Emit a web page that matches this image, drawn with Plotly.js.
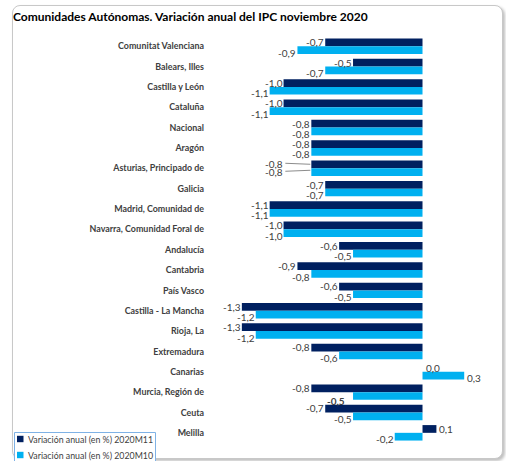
<!DOCTYPE html>
<html>
<head>
<meta charset="utf-8">
<script src="https://cdn.plot.ly/plotly-3.0.1.min.js"></script>
<style>
  html, body { margin: 0; padding: 0; background: #ffffff; }
  #wrap { position: relative; width: 506px; height: 461px; overflow: hidden; }
  #frame { position: absolute; left: 12px; top: 5px; width: 489px; height: 452px;
           border: 1px solid #c8c8c8; border-radius: 8px;
           box-shadow: 2px 2px 3px rgba(0,0,0,0.25); background: #ffffff; }
  #chart { position: absolute; left: 0; top: 0; width: 506px; height: 461px; }
</style>
</head>
<body>
<div id="wrap">
  <div id="frame"></div>
  <div id="chart"></div>
</div>
<script>
const categories = [
  "Comunitat Valenciana", "Balears, Illes", "Castilla y León", "Cataluña", "Nacional",
  "Aragón", "Asturias, Principado de", "Galicia", "Madrid, Comunidad de",
  "Navarra, Comunidad Foral de", "Andalucía", "Cantabria", "País Vasco",
  "Castilla - La Mancha", "Rioja, La", "Extremadura", "Canarias",
  "Murcia, Región de", "Ceuta", "Melilla"
];
const m11 = [-0.7, -0.5, -1.0, -1.0, -0.8, -0.8, -0.8, -0.7, -1.1, -1.0,
             -0.6, -0.9, -0.6, -1.3, -1.3, -0.8, 0.0, -0.8, -0.7, 0.1];
const m10 = [-0.9, -0.7, -1.1, -1.1, -0.8, -0.8, -0.8, -0.7, -1.1, -1.0,
             -0.5, -0.8, -0.5, -1.2, -1.2, -0.6, 0.3, -0.5, -0.5, -0.2];
const seriesNames = ["Variación anual (en %) 2020M11", "Variación anual (en %) 2020M10"];

const darkColor = "#002060";
const lightColor = "#00B0F0";
const fontFam = "Lato, 'Open Sans', sans-serif";

// plot geometry (pixels)
const W = 506, H = 461;
const M = { l: 221, r: 14, t: 36, b: 18 };
const PW = W - M.l - M.r, PH = H - M.t - M.b;
const px2x = (px) => (px - M.l) / PW;
const py2y = (py) => (H - M.b - py) / PH;

function fmt(v) { return v.toFixed(1).replace('.', ','); }

const traces = [
  { type: 'bar', orientation: 'h', name: seriesNames[0], y: categories, x: m11,
    marker: { color: darkColor }, hoverinfo: 'none' },
  { type: 'bar', orientation: 'h', name: seriesNames[1], y: categories, x: m10,
    marker: { color: lightColor }, hoverinfo: 'none' }
];

const annotations = [];
const shapes = [];
const leaderCat = "Asturias, Principado de";
const boldCat = "Murcia, Región de";

function addLabels(vals, up) {
  vals.forEach((v, i) => {
    const pos = v >= 0;
    const cat = categories[i];
    const bold = (!up && cat === boldCat);
    const leader = (cat === leaderCat);
    let xshift = pos ? 2 : 0;
    let yshift = up ? 4 : -6.5;
    if (leader) { xshift = -27; yshift = up ? 4 : -4; }
    if (bold) { xshift = -7; yshift = -9; }
    annotations.push({
      x: v, y: cat, xref: 'x', yref: 'y',
      text: bold ? '<b>' + fmt(v) + '</b>' : fmt(v),
      showarrow: false, borderpad: 0,
      xanchor: pos ? 'left' : 'right',
      xshift: xshift, yshift: yshift,
      font: { family: fontFam, size: 10, color: '#404040' }
    });
    if (leader) {
      shapes.push({
        type: 'line', xref: 'x', yref: 'y',
        xsizemode: 'pixel', xanchor: v, x0: -26, x1: -1,
        ysizemode: 'pixel', yanchor: cat, y0: yshift + 1, y1: yshift + (up ? 0 : 2),
        line: { color: '#8c8c8c', width: 1 }
      });
    }
  });
}
addLabels(m11, true);
addLabels(m10, false);

// custom legend (box + swatches + texts)
shapes.push({
  type: 'rect', xref: 'paper', yref: 'paper',
  x0: px2x(14.5), x1: px2x(155.5), y0: py2y(463), y1: py2y(432.5),
  line: { color: '#7fb2e5', width: 1 }, fillcolor: '#ffffff', layer: 'above'
});
const legColors = [darkColor, lightColor];
const legY = [439, 455];
seriesNames.forEach((name, k) => {
  shapes.push({
    type: 'rect', xref: 'paper', yref: 'paper',
    x0: px2x(17), x1: px2x(23.5), y0: py2y(legY[k] + 3.2), y1: py2y(legY[k] - 3.2),
    line: { width: 0 }, fillcolor: legColors[k], layer: 'above'
  });
  annotations.push({
    xref: 'paper', yref: 'paper', x: px2x(26), y: py2y(legY[k]),
    xanchor: 'left', yanchor: 'middle', showarrow: false,
    text: name,
    font: { family: fontFam, size: 8.8, color: '#404040' }
  });
});

const layout = {
  width: W, height: H,
  margin: { l: M.l, r: M.r, t: M.t, b: M.b, pad: 0, autoexpand: false },
  paper_bgcolor: 'rgba(0,0,0,0)',
  plot_bgcolor: 'rgba(0,0,0,0)',
  barmode: 'group',
  bargap: 0.24,
  bargroupgap: 0,
  title: {
    text: '<b>Comunidades Autónomas. Variación anual del IPC noviembre 2020</b>',
    xref: 'container', yref: 'container',
    x: 13 / W, xanchor: 'left',
    y: 1 - 17 / H, yanchor: 'middle',
    font: { family: fontFam, size: 12, color: '#000000' }
  },
  xaxis: {
    range: [-1.45, 0.5],
    showticklabels: false, showgrid: false, zeroline: false, showline: false,
    fixedrange: true
  },
  yaxis: {
    type: 'category', autorange: false,
    range: [categories.length - 0.5, -0.5],
    showgrid: false, zeroline: false, showline: false, ticks: '',
    ticklabelstandoff: 16,
    tickfont: { family: fontFam, size: 8.9, color: '#404040', weight: 'bold' },
    fixedrange: true
  },
  showlegend: false,
  annotations: annotations,
  shapes: shapes
};

Plotly.newPlot('chart', traces, layout, { displayModeBar: false, staticPlot: true });
</script>
</body>
</html>
